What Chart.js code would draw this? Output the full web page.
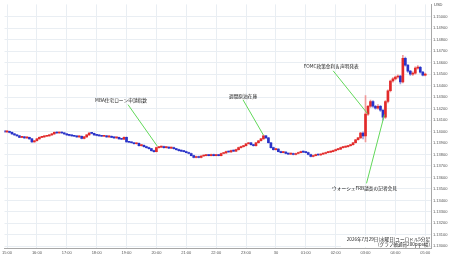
<!DOCTYPE html>
<html>
<head>
<meta charset="utf-8">
<script src="https://cdn.jsdelivr.net/npm/chart.js@4.4.1/dist/chart.umd.min.js"></script>
<style>
    html, body { margin: 0; padding: 0; background: #fff; }
    #wrap { width: 450px; height: 258px; position: relative; }
</style>
</head>
<body>
<div id="wrap"><canvas id="chart"></canvas></div>
<script>
// ユーロドル 5分足. Time is in minutes after 15:00, first candle = 14:55.
const START_MIN = -5;
const STEP_MIN  = 5;

const open = [
    1.14001,1.13997,1.14001,1.13993,1.13980,1.13971,1.13963,1.13950,1.13954,1.13945,
    1.13949,1.13937,1.13911,1.13920,1.13937,1.13950,1.13954,1.13959,1.13963,1.13971,
    1.13980,1.13993,1.13988,1.13993,1.13988,1.13980,1.13971,1.13967,1.13963,1.13959,
    1.13954,1.13959,1.13941,1.13954,1.13971,1.13988,1.13984,1.13971,1.13967,1.13963,
    1.13959,1.13963,1.13954,1.13959,1.13950,1.13945,1.13949,1.13937,1.13933,1.13950,
    1.13911,1.13907,1.13903,1.13894,1.13898,1.13877,1.13881,1.13869,1.13860,1.13851,
    1.13834,1.13826,1.13860,1.13864,1.13869,1.13860,1.13864,1.13856,1.13860,1.13851,
    1.13843,1.13834,1.13830,1.13826,1.13817,1.13809,1.13791,1.13774,1.13783,1.13774,
    1.13787,1.13791,1.13796,1.13791,1.13800,1.13791,1.13796,1.13791,1.13809,1.13813,
    1.13826,1.13822,1.13834,1.13830,1.13843,1.13860,1.13869,1.13877,1.13894,1.13903,
    1.13886,1.13877,1.13903,1.13920,1.13937,1.13963,1.13945,1.13903,1.13860,1.13843,
    1.13847,1.13826,1.13817,1.13821,1.13809,1.13804,1.13809,1.13800,1.13809,1.13817,
    1.13826,1.13821,1.13817,1.13800,1.13783,1.13791,1.13800,1.13796,1.13804,1.13809,
    1.13817,1.13821,1.13826,1.13834,1.13843,1.13847,1.13860,1.13864,1.13869,1.13877,
    1.13886,1.13903,1.13929,1.13945,1.13988,1.13963,1.14152,1.14221,1.14262,1.14221,
    1.14204,1.14221,1.14186,1.14126,1.14262,1.14356,1.14441,1.14459,1.14476,1.14484,
    1.14433,1.14638,1.14579,1.14527,1.14501,1.14510,1.14553,1.14561,1.14518,1.14493
];
const high = [
    1.14006,1.14005,1.14005,1.13997,1.13984,1.13975,1.13967,1.13958,1.13958,1.13953,
    1.13953,1.13941,1.13924,1.13941,1.13954,1.13958,1.13963,1.13967,1.13975,1.13984,
    1.13997,1.13997,1.13997,1.13997,1.13992,1.13984,1.13975,1.13971,1.13967,1.13963,
    1.13963,1.13963,1.13958,1.13975,1.13992,1.13992,1.13988,1.13975,1.13971,1.13967,
    1.13967,1.13967,1.13963,1.13963,1.13954,1.13953,1.13953,1.13941,1.13954,1.13954,
    1.13915,1.13911,1.13907,1.13902,1.13902,1.13885,1.13885,1.13873,1.13864,1.13855,
    1.13838,1.13866,1.13868,1.13873,1.13873,1.13868,1.13868,1.13864,1.13864,1.13855,
    1.13847,1.13838,1.13834,1.13830,1.13821,1.13813,1.13795,1.13787,1.13787,1.13791,
    1.13795,1.13800,1.13800,1.13804,1.13804,1.13800,1.13800,1.13813,1.13817,1.13830,
    1.13830,1.13838,1.13838,1.13847,1.13864,1.13873,1.13881,1.13898,1.13907,1.13907,
    1.13890,1.13907,1.13924,1.13941,1.13969,1.13967,1.13949,1.13907,1.13864,1.13851,
    1.13851,1.13830,1.13825,1.13825,1.13813,1.13813,1.13813,1.13813,1.13821,1.13830,
    1.13830,1.13825,1.13821,1.13804,1.13795,1.13804,1.13804,1.13808,1.13813,1.13821,
    1.13825,1.13830,1.13838,1.13847,1.13851,1.13864,1.13868,1.13873,1.13881,1.13890,
    1.13907,1.13933,1.13950,1.13994,1.13997,1.14313,1.14230,1.14275,1.14270,1.14230,
    1.14235,1.14230,1.14195,1.14270,1.14365,1.14450,1.14470,1.14485,1.14495,1.14490,
    1.14664,1.14650,1.14585,1.14535,1.14520,1.14565,1.14575,1.14570,1.14525,1.14510
];
const low = [
    1.13993,1.13993,1.13989,1.13976,1.13967,1.13959,1.13946,1.13946,1.13941,1.13941,
    1.13933,1.13905,1.13907,1.13916,1.13933,1.13946,1.13950,1.13955,1.13959,1.13967,
    1.13976,1.13984,1.13984,1.13984,1.13976,1.13967,1.13963,1.13959,1.13955,1.13950,
    1.13950,1.13937,1.13937,1.13950,1.13967,1.13980,1.13967,1.13963,1.13959,1.13955,
    1.13955,1.13950,1.13950,1.13946,1.13941,1.13941,1.13933,1.13929,1.13929,1.13907,
    1.13903,1.13899,1.13890,1.13890,1.13873,1.13873,1.13865,1.13856,1.13847,1.13830,
    1.13820,1.13822,1.13856,1.13860,1.13856,1.13856,1.13852,1.13852,1.13847,1.13839,
    1.13830,1.13826,1.13822,1.13813,1.13805,1.13787,1.13770,1.13770,1.13770,1.13770,
    1.13783,1.13787,1.13787,1.13787,1.13787,1.13787,1.13787,1.13787,1.13805,1.13809,
    1.13818,1.13818,1.13826,1.13826,1.13839,1.13856,1.13865,1.13873,1.13890,1.13882,
    1.13873,1.13873,1.13899,1.13916,1.13933,1.13941,1.13899,1.13856,1.13839,1.13839,
    1.13822,1.13813,1.13813,1.13805,1.13800,1.13800,1.13796,1.13796,1.13805,1.13813,
    1.13817,1.13813,1.13796,1.13779,1.13779,1.13787,1.13792,1.13792,1.13800,1.13805,
    1.13813,1.13817,1.13822,1.13830,1.13839,1.13843,1.13856,1.13860,1.13865,1.13873,
    1.13882,1.13899,1.13925,1.13941,1.13937,1.13911,1.14140,1.14210,1.14210,1.14195,
    1.14195,1.14175,1.14100,1.14115,1.14250,1.14345,1.14430,1.14450,1.14465,1.14416,
    1.14425,1.14570,1.14515,1.14490,1.14490,1.14500,1.14545,1.14510,1.14485,1.14485
];
const close = [
    1.13997,1.14001,1.13993,1.13980,1.13971,1.13963,1.13950,1.13954,1.13945,1.13949,
    1.13937,1.13911,1.13920,1.13937,1.13950,1.13954,1.13959,1.13963,1.13971,1.13980,
    1.13993,1.13988,1.13993,1.13988,1.13980,1.13971,1.13967,1.13963,1.13959,1.13954,
    1.13959,1.13941,1.13954,1.13971,1.13988,1.13984,1.13971,1.13967,1.13963,1.13959,
    1.13963,1.13954,1.13959,1.13950,1.13945,1.13949,1.13937,1.13933,1.13950,1.13911,
    1.13907,1.13903,1.13894,1.13898,1.13877,1.13881,1.13869,1.13860,1.13851,1.13834,
    1.13826,1.13860,1.13864,1.13869,1.13860,1.13864,1.13856,1.13860,1.13851,1.13843,
    1.13834,1.13830,1.13826,1.13817,1.13809,1.13791,1.13774,1.13783,1.13774,1.13787,
    1.13791,1.13796,1.13791,1.13800,1.13791,1.13796,1.13791,1.13809,1.13813,1.13826,
    1.13822,1.13834,1.13830,1.13843,1.13860,1.13869,1.13877,1.13894,1.13903,1.13886,
    1.13877,1.13903,1.13920,1.13937,1.13963,1.13945,1.13903,1.13860,1.13843,1.13847,
    1.13826,1.13817,1.13821,1.13809,1.13804,1.13809,1.13800,1.13809,1.13817,1.13826,
    1.13821,1.13817,1.13800,1.13783,1.13791,1.13800,1.13796,1.13804,1.13809,1.13817,
    1.13821,1.13826,1.13834,1.13843,1.13847,1.13860,1.13864,1.13869,1.13877,1.13886,
    1.13903,1.13929,1.13945,1.13988,1.13963,1.14152,1.14221,1.14262,1.14221,1.14204,
    1.14221,1.14186,1.14126,1.14262,1.14356,1.14441,1.14459,1.14476,1.14484,1.14433,
    1.14638,1.14579,1.14527,1.14501,1.14510,1.14553,1.14561,1.14518,1.14493,1.14501
];

// x axis: hour ticks (minutes after 15:00) and their labels
const xTicks      = [0, 60, 120, 180, 240, 300, 360, 420, 480, 540, 600, 660, 720, 780, 840];
const xTickLabels = ['15:00','16:00','17:00','18:00','19:00','20:00','21:00','22:00',
                     '23:00','30','01:00','02:00','03:00','04:00','05:00'];

// y axis: 1.13000 - 1.15000 (200pips), a label every 10 pips
const Y_FROM = 1.13, Y_TO = 1.15, Y_STEP = 0.001;

// event notes: text, label position, line from -> to  [minutes, price]
const events = [
    { text: 'MBA住宅ローン申請指数',     label: [229, 1.14277], from: [243, 1.14235], to: [302, 1.13872] },
    { text: '週間原油在庫',              label: [474, 1.14307], from: [474, 1.14277], to: [515, 1.13969] },
    { text: 'FOMC政策金利＆声明発表',     label: [651, 1.14569], from: [655, 1.14530], to: [724, 1.14157] },
    { text: 'ウォーシュFRB議長の記者会見', label: [718, 1.13506], from: [722, 1.13549], to: [758, 1.14149] }
];

const UP_COLOR   = '#e22a2a';
const DOWN_COLOR = '#2832c8';
const UP_WICK    = '#f09a9a';
const DOWN_WICK  = '#9aa0e4';
const NOTE_LINE  = '#62d85a';
const GRID       = '#e9eef3';
const JP_FONT    = '"Noto Sans CJK JP", sans-serif';

const times = open.map((_, i) => START_MIN + i * STEP_MIN);
const isUp  = i => close[i] >= open[i];

const bodies = times.map((t, i) => ({ x: t, y: [open[i], close[i]] }));
const wicks  = times.map((t, i) => ({ x: t, y: [low[i], high[i]] }));

// Draws the event lines and notes, the currency label and the footnote.
const notesPlugin = {
    id: 'notes',
    afterDatasetsDraw(chart) {
        const { ctx, scales: { x, y } } = chart;
        ctx.save();
        ctx.strokeStyle = NOTE_LINE;
        ctx.lineWidth = 1;
        for (let ev of events) {
            ctx.beginPath();
            ctx.moveTo(x.getPixelForValue(ev.from[0]), y.getPixelForValue(ev.from[1]));
            ctx.lineTo(x.getPixelForValue(ev.to[0]),   y.getPixelForValue(ev.to[1]));
            ctx.stroke();
        }
        ctx.fillStyle = '#222';
        ctx.font = `4.7px ${JP_FONT}`;
        ctx.textAlign = 'center';
        ctx.textBaseline = 'middle';
        for (let ev of events) {
            ctx.fillText(ev.text, x.getPixelForValue(ev.label[0]), y.getPixelForValue(ev.label[1]));
        }
        ctx.restore();
    },
    afterDraw(chart) {
        const { ctx, chartArea } = chart;
        ctx.save();
        // the last hour label is cut off by the price axis
        ctx.fillStyle = '#fff';
        ctx.fillRect(chartArea.right + 0.5, chartArea.bottom + 1.5, 20, 10);

        ctx.fillStyle = '#444';
        ctx.font = '4px "Liberation Sans", sans-serif';
        ctx.textAlign = 'left';
        ctx.textBaseline = 'middle';
        ctx.fillText('USD', chartArea.right + 3, 5);

        // footnote, bottom right of the plot
        ctx.fillStyle = '#fff';
        ctx.fillRect(chartArea.right - 90, chartArea.bottom - 12, 89, 11);
        ctx.fillStyle = '#222';
        ctx.font = `4.6px ${JP_FONT}`;
        ctx.textAlign = 'right';
        ctx.fillText('2026年7月29日(水曜日)ユーロドル5分足', chartArea.right - 1, chartArea.bottom - 9);
        ctx.fillText('(グラフ軸通貨200pips幅)', chartArea.right - 1, chartArea.bottom - 3.5);
        ctx.restore();
    }
};

const _chart = document.querySelector('#chart');

new Chart(_chart, {
    type: 'bar',
    data: {
        datasets: [
            {
                label: 'body',
                data: bodies,
                order: 1,
                grouped: false,
                barThickness: 2,
                minBarLength: 1,
                borderWidth: 0,
                backgroundColor: ctx => isUp(ctx.dataIndex) ? UP_COLOR : DOWN_COLOR
            },
            {
                label: 'wick',
                data: wicks,
                order: 2,
                grouped: false,
                barThickness: 1,
                borderWidth: 0,
                backgroundColor: ctx => isUp(ctx.dataIndex) ? UP_WICK : DOWN_WICK
            }
        ]
    },
    options: {
        responsive: true,
        maintainAspectRatio: false,
        animation: false,
        devicePixelRatio: 1,
        layout: { padding: 0 },
        plugins: { legend: { display: false }, tooltip: { enabled: false } },
        scales: {
            x: {
                type: 'linear',
                min: -5,
                max: 851.5,
                offset: false,
                afterBuildTicks: scale => { scale.ticks = xTicks.map(v => ({ value: v })); },
                afterFit: scale => { scale.height = 10; },
                grid: { color: GRID, drawTicks: false, offset: false },
                border: { color: '#a8a8a8' },
                ticks: {
                    padding: 2,
                    maxRotation: 0,
                    autoSkip: false,
                    color: '#555',
                    font: { size: 4, family: '"Liberation Sans", sans-serif' },
                    callback: v => xTickLabels[xTicks.indexOf(v)]
                }
            },
            y: {
                type: 'linear',
                position: 'right',
                min: 1.12985,
                max: 1.15109,
                afterBuildTicks: scale => {
                    const ticks = [];
                    for (let v = Y_FROM; v <= Y_TO + 1e-9; v += Y_STEP) ticks.push({ value: +v.toFixed(5) });
                    scale.ticks = ticks;
                },
                afterFit: scale => { scale.width = 19; },
                grid: { color: GRID, drawTicks: false },
                border: { color: '#a8a8a8' },
                ticks: {
                    padding: 2,
                    color: '#555',
                    font: { size: 4, family: '"Liberation Sans", sans-serif' },
                    callback: v => v.toFixed(5)
                }
            }
        }
    },
    plugins: [notesPlugin]
});
</script>
</body>
</html>
